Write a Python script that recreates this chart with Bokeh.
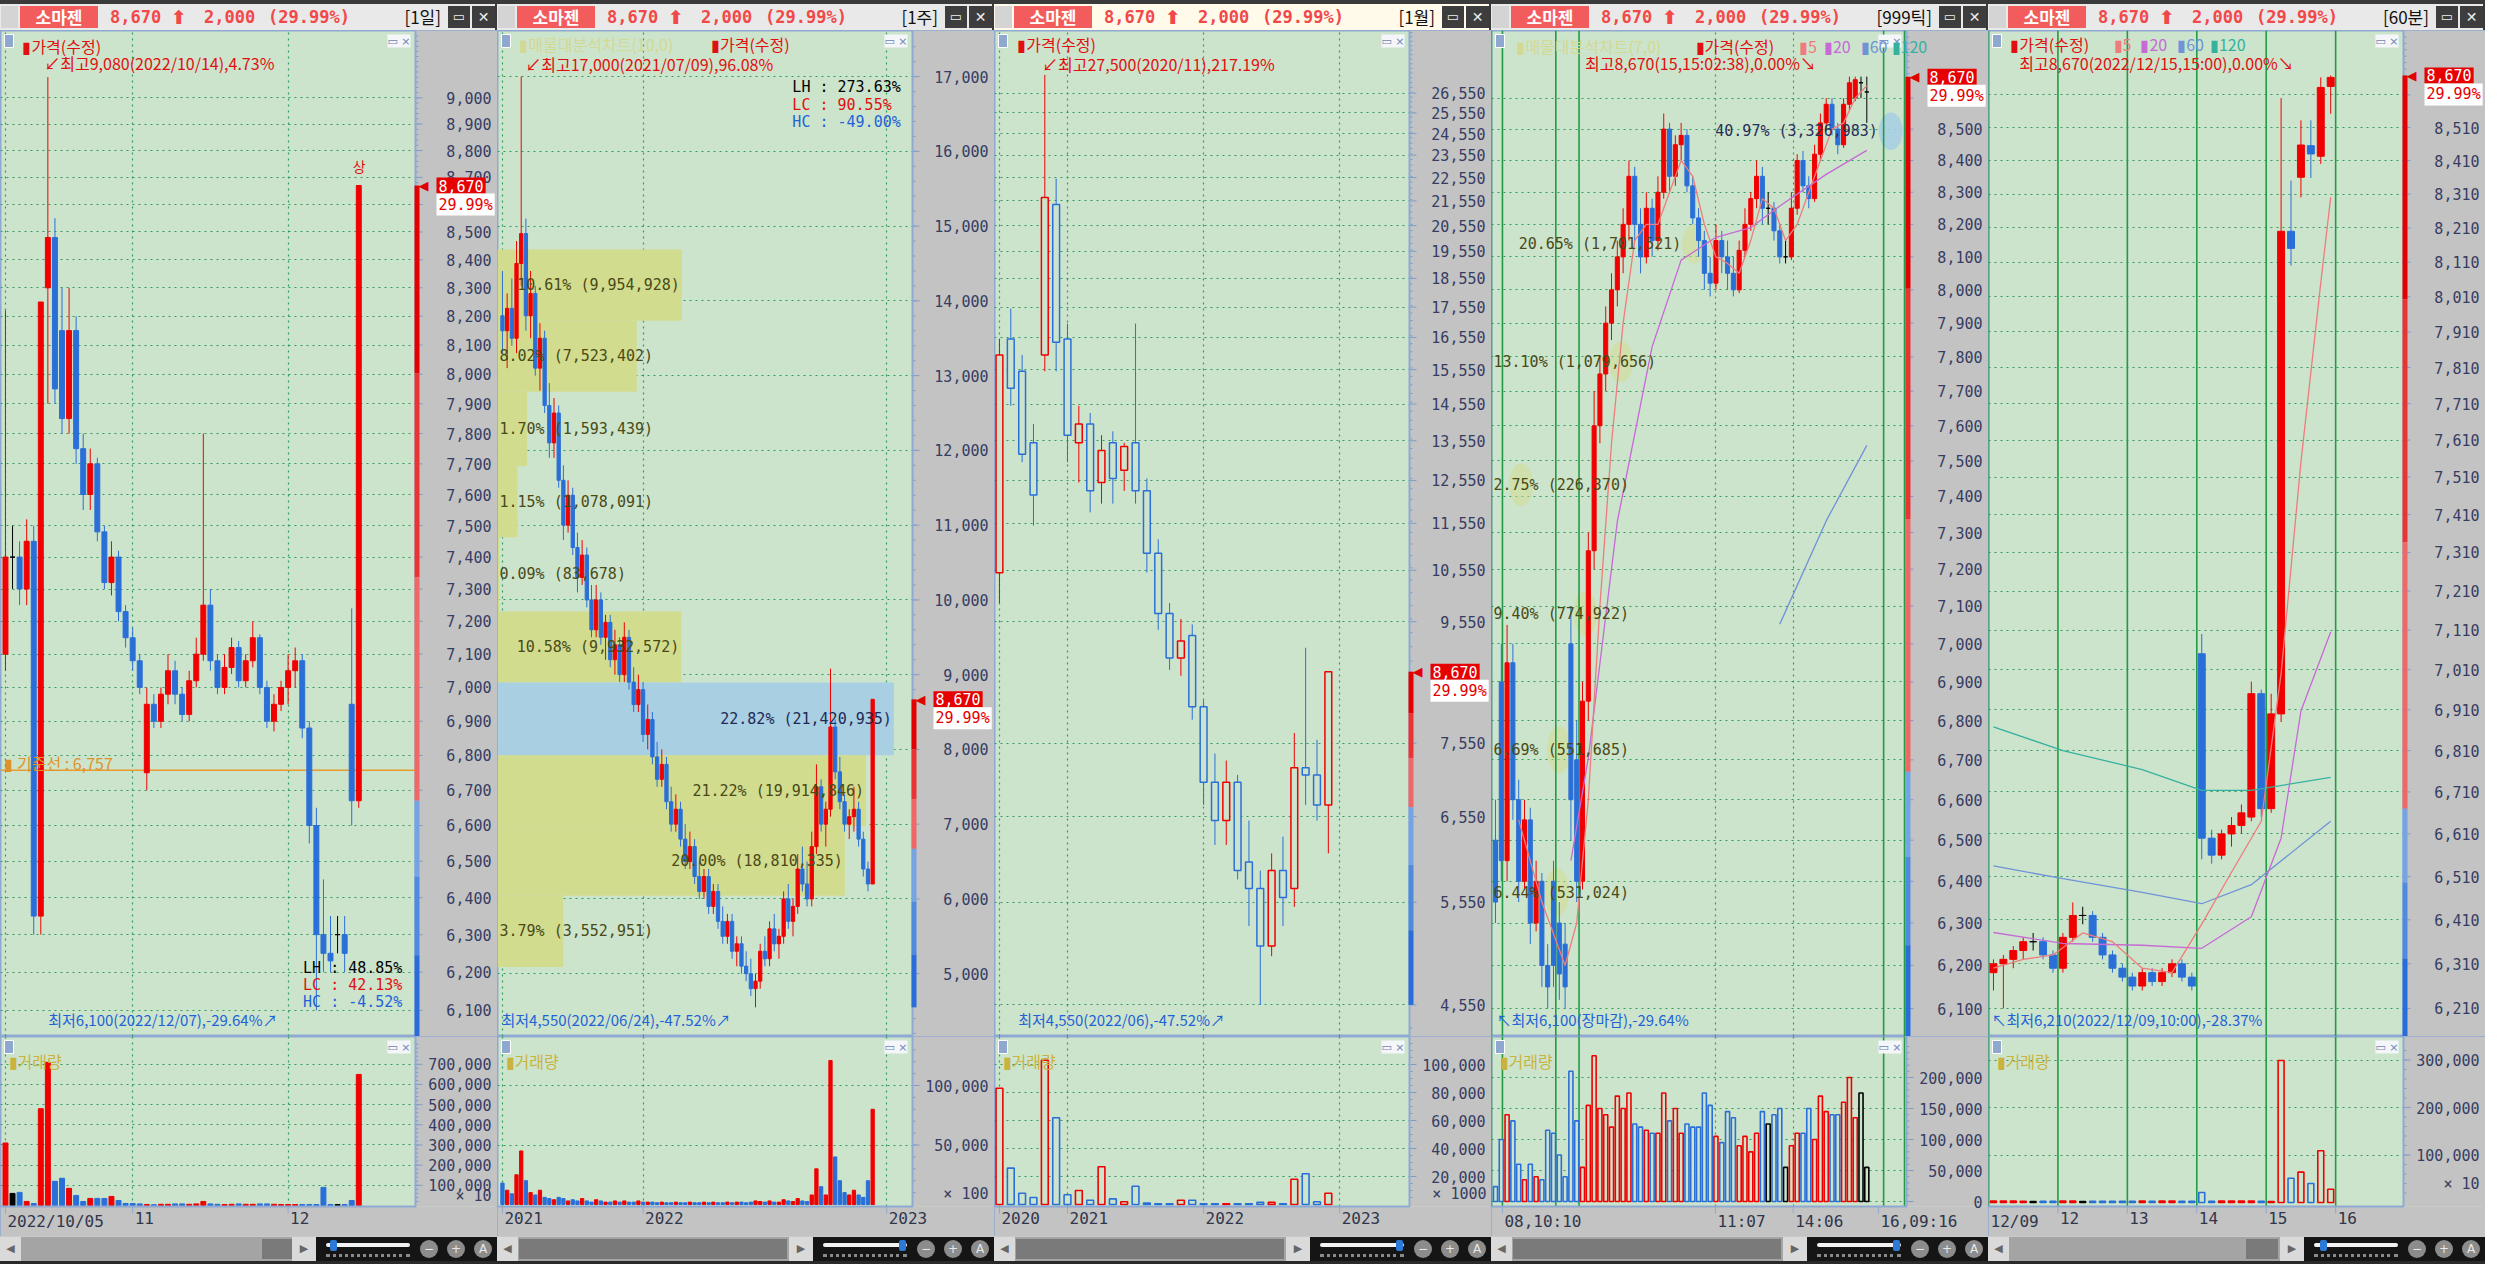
import math
from bokeh.plotting import figure
from bokeh.layouts import row, column
from bokeh.models import Div, Range1d, FixedTicker, Label, Grid
from bokeh.core.properties import value
from bokeh.embed import file_html
from bokeh.resources import INLINE

# ============================ DATA ============================
# ---- Panel 1 : daily candles, 2022/10/05 .. 2022/12/15 ----
d_open = [7100,7400,7400,7300,7450,6350,8300,8480,8150,7850,8150,7750,7600,7700,7480,7320,7400,7230,
          7150,7080,6750,6950,6900,6980,7050,6980,6920,7020,7100,7250,7080,7000,7060,7120,7020,7080,7150,7000,6900,6950,
          7000,7050,7080,6880,6600,6300,6250,6300,6300,6950,6670]
d_high = [8220,7500,7450,7520,7500,8250,9080,8550,8300,8300,8200,7800,7750,7720,7500,7450,7420,7250,
          7180,7100,7000,6980,7000,7100,7080,7000,7050,7150,7800,7300,7100,7100,7150,7140,7100,7200,7160,7020,6980,7020,
          7100,7120,7100,6900,6650,6450,6350,6350,6350,7240,8670]
d_low = [7050,7300,7250,7250,6300,6300,7900,7900,7800,7800,7700,7550,7550,7450,7300,7280,7200,7120,
         7050,6980,6700,6880,6880,6950,6950,6900,6900,7000,7080,7050,6980,6980,7040,7000,7000,7060,6980,6880,6870,6930,
         6950,7000,6850,6550,6100,6200,6200,6250,6200,6600,6650]
d_close = [7400,7400,7300,7450,6350,8250,8480,7950,7850,8150,7750,7600,7700,7480,7320,7400,7230,7150,
           7080,7000,6950,6900,6980,7050,6980,6920,7020,7100,7250,7080,7000,7060,7120,7020,7080,7150,7000,6900,6950,7000,
           7050,7080,6880,6600,6300,6250,6230,6300,6250,6670,8670]
d_vol = [310000,60000,65000,20000,10000,480000,710000,120000,135000,85000,50000,20000,35000,35000,35000,45000,25000,10000,
         10000,8000,5000,4000,6000,6000,8000,8000,6000,8000,20000,8000,6000,5000,6000,8000,6000,6000,8000,8000,6000,5000,
         5000,5000,5000,5000,5000,90000,5000,5000,5000,25000,650000]
d_tick_idx = [0, 18, 40]
d_tick_lbl = ["2022/10/05", "11", "12"]
d_base_line = 6757

# ---- Panel 2 : weekly candles, 2021/06 .. 2022/12 ----
w_open = [13800,13600,13900,13500,14500,14900,13800,14100,13100,13500,12600,12100,12500,11600,11000,11400,10700,10300,10600,10000,
          9600,10000,9500,9700,9200,9400,9000,9500,8900,8600,8800,8200,8400,7900,7600,7800,7300,7000,7200,6800,
          6500,6700,6300,6100,6300,5900,6100,5700,5500,5700,5300,5400,5100,5000,4800,4900,5300,5200,5600,5400,
          5500,6000,5700,5900,6400,6200,6000,6700,7500,7000,7200,8300,7700,7300,7000,7100,7200,6800,6400,6200]
w_high = [14400,14100,14300,14800,17000,15100,14400,14200,13700,13600,12900,12700,12600,11800,11600,11500,10900,10800,10700,10200,
          10200,10100,9800,9800,9600,9500,9700,9600,9100,9000,8900,8600,8500,8100,8000,7900,7500,7400,7300,7000,
          6900,6800,6500,6400,6400,6200,6200,5900,5800,5800,5500,5500,5300,5200,5000,5400,5500,5700,5800,5600,
          6100,6200,6000,6600,6700,6500,6900,7800,7600,7300,9080,8400,7900,7400,7200,7500,7300,6900,6500,8670]
w_low = [13300,13100,13400,13300,14200,13600,13500,13000,12800,12500,11900,11900,11500,10800,10900,10600,10100,10200,9900,9500,
         9500,9400,9200,9100,9000,8900,8900,8800,8500,8500,8100,8000,7800,7500,7500,7200,6900,6900,6700,6400,
         6400,6200,6000,6000,5800,5800,5600,5400,5400,5200,5100,5000,4900,4700,4550,4800,5100,5100,5300,5200,
         5400,5600,5500,5800,6100,5900,5900,6600,6900,6700,7100,7600,7200,6900,6800,6900,6700,6300,6100,6200]
w_close = [13600,13900,13500,14500,14900,13800,14100,13100,13500,12600,12100,12500,11600,11000,11400,10700,10300,10600,10000,9600,
           10000,9500,9700,9200,9400,9000,9500,8900,8600,8800,8200,8400,7900,7600,7800,7300,7000,7200,6800,6500,
           6700,6300,6100,6300,5900,6100,5700,5500,5700,5300,5400,5100,5000,4800,4900,5300,5200,5600,5400,5500,
           6000,5700,5900,6400,6200,6000,6700,7500,7000,7200,8300,7700,7300,7000,7100,7200,6800,6400,6200,8670]
w_vol = [18000,12000,9000,25000,45000,20000,10000,8000,12000,6000,5000,4000,6000,5000,3000,4000,3000,5000,3000,2000,
         4000,3000,2000,2000,3000,2000,3000,2000,2000,3000,2000,2000,2000,1500,2000,1500,1500,2000,1500,1500,
         2000,1500,1500,2000,1500,2000,1500,1500,2000,1500,2000,2000,1500,2000,3000,2500,2000,3000,2000,2000,
         4000,3000,2500,5000,3000,2500,8000,30000,15000,8000,121000,40000,20000,10000,8000,12000,8000,6000,20000,80000]
w_tick_idx = [0, 30, 82]
w_tick_lbl = ["2021", "2022", "2023"]
# volume profile (매물대) : band edges (price) top->bottom, share and volume
w_band_top = [14687, 13735, 12784, 11791, 10839, 9846, 8894, 7922, 6972, 6041]
w_band_bot = [13735, 12784, 11791, 10839, 9846, 8894, 7922, 6972, 6041, 5090]
w_band_pct = [10.61, 8.02, 1.70, 1.15, 0.09, 10.58, 22.82, 21.22, 20.00, 3.79]
w_band_vol = ["9,954,928", "7,523,402", "1,593,439", "1,078,091", "83,678", "9,932,572",
              "21,420,935", "19,914,846", "18,810,335", "3,552,951"]

# ---- Panel 3 : monthly candles, 2020/07 .. 2022/12 ----
m_open = [10500,16500,15500,13500,16000,21400,16500,13500,14000,12500,13500,12800,13500,12300,10900,9700,8900,9300,8100,7000,
          6500,7000,6000,5700,5100,5900,5700,7200,7100,6700]
m_high = [16500,17500,16000,14000,27500,22500,17000,14500,14300,13700,13800,13500,17000,12600,11200,9900,9600,9500,8200,7400,
          7300,7100,6500,5900,6100,6300,7700,9080,7600,8670]
m_low = [9900,14500,13000,11500,15500,15500,13000,12500,11800,12000,12000,12300,12000,10500,9400,8700,8600,7900,6700,6200,
         6200,5800,5300,4550,5000,5300,5500,6700,6500,6100]
m_close = [16000,15000,13200,12200,21700,16400,13700,14000,12300,13300,12600,13400,12300,10900,9700,8900,9200,8100,7000,6500,
           7000,5900,5700,5100,5900,5600,7200,7100,6700,8670]
m_vol = [83000,26000,8000,5000,103000,62000,7000,10000,3000,27000,4000,2000,13000,1000,500,500,3000,3000,500,500,
         500,500,500,1500,1500,500,18000,22000,2000,8000]
m_tick_idx = [0, 6, 18, 30]
m_tick_lbl = ["2020", "2021", "2022", "2023"]
m_price_ticks = [4550, 5550, 6550, 7550, 9550, 10550, 11550, 12550, 13550, 14550, 15550, 16550, 17550,
                 18550, 19550, 20550, 21550, 22550, 23550, 24550, 25550, 26550]

# ---- Panel 4 : 999-tick candles ----
t_open = [6500,6900,6450,6950,6600,6400,6550,6300,6400,6200,6400,6300,6250,7000,6700,6400,6850,7250,7600,7750,
          7900,8000,8100,8200,8350,8200,8100,8250,8150,8300,8500,8350,8450,8480,8320,8220,8150,8050,8020,8150,
          8100,8050,8000,8120,8200,8280,8350,8250,8250,8180,8100,8100,8250,8400,8320,8280,8420,8520,8580,8500,
          8450,8580,8600,8650,8620]
t_high = [6600,7000,7050,7000,6650,6600,6580,6450,6420,6250,6450,6350,6300,7100,6800,6900,7300,7700,7800,7950,
          8050,8150,8250,8400,8380,8250,8300,8280,8350,8550,8520,8480,8520,8500,8350,8250,8180,8100,8200,8180,
          8150,8100,8150,8250,8300,8400,8380,8300,8270,8200,8150,8300,8420,8430,8350,8450,8550,8600,8600,8520,
          8600,8670,8670,8670,8670]
t_low = [6300,6400,6400,6550,6350,6380,6250,6280,6150,6100,6150,6120,6100,6500,6350,6380,6800,7200,7550,7700,
         7850,7950,8050,8150,8150,8050,8080,8100,8120,8280,8300,8320,8400,8300,8200,8100,8000,7980,8000,8050,
         8000,7980,7990,8100,8180,8250,8200,8200,8150,8080,8080,8090,8230,8300,8250,8270,8400,8500,8480,8420,
         8440,8560,8590,8600,8520]
t_close = [6350,6450,6950,6600,6400,6550,6300,6400,6200,6150,6200,6180,6150,6600,6400,6850,7250,7600,7750,7900,
           8000,8100,8200,8350,8200,8100,8250,8150,8300,8500,8350,8450,8480,8320,8220,8150,8050,8020,8150,8100,
           8050,8000,8120,8200,8280,8350,8250,8250,8180,8100,8100,8250,8400,8320,8280,8420,8520,8580,8500,8450,
           8580,8650,8660,8650,8620]
t_vol = [24000,100000,140000,130000,60000,35000,60000,40000,35000,115000,110000,75000,40000,210000,130000,55000,155000,235000,150000,140000,
         120000,170000,150000,175000,125000,120000,115000,110000,110000,175000,130000,150000,110000,125000,120000,120000,175000,155000,105000,95000,
         145000,135000,90000,105000,80000,110000,145000,125000,140000,150000,55000,90000,110000,110000,150000,100000,170000,145000,140000,140000,
         160000,200000,135000,175000,55000]
t_tick_idx = [1.2, 37.9, 51.3, 66.0]
t_tick_lbl = ["08,10:10", "11:07", "14:06", "16,09:16"]
t_day_lines = [-0.7, 1.2, 10.4, 14.4, 66.9, 70.5]
t_ma5_idx = [4,8,12,14,16,18,20,22,24,26,28,30,32,34,36,38,40,42,44,46,48,50,52,54,56,58,60,62,64]
t_ma5_val = [6550,6350,6200,6300,6600,7100,7550,7900,8150,8200,8200,8300,8400,8350,8200,8100,8080,8050,8150,8280,
             8250,8150,8200,8300,8400,8500,8520,8600,8640]
t_ma20_idx = [13,16,21,27,32,38,44,49,57,64]
t_ma20_val = [6450,6705,7330,7830,8090,8160,8190,8257,8356,8432]
t_ma60_idx = [49,57,64]
t_ma60_val = [7052,7332,7544]
t_band_top = [8670, 8316, 7963, 7609, 7256, 6903, 6549]
t_band_bot = [8316, 7963, 7609, 7256, 6903, 6549, 6196]
t_band_pct = [40.97, 20.65, 13.10, 2.75, 9.40, 6.69, 6.44]
t_band_vol = ["3,326,983", "1,701,521", "1,079,656", "226,370", "774,922", "551,685", "531,024"]

# ---- Panel 5 : 60-minute candles, 12/09 .. 12/15 ----
h_open = [6290,6310,6320,6340,6360,6360,6330, 6300,6370,6420,6420,6370,6330,6300,
          6280,6260,6290,6270,6290,6310,6280, 7050,6600,6560,6610,6630,6650,6950,
          6670,6900,8200,8360,8455,8423,8636]
h_high = [6320,6330,6350,6370,6380,6370,6340, 6380,6450,6440,6430,6380,6340,6310,
          6290,6300,6300,6300,6320,6320,6290, 7100,6620,6620,6650,6680,6980,6960,
          6950,8600,8350,8532,8532,8664,8670]
h_low = [6250,6210,6300,6320,6340,6320,6290, 6290,6360,6400,6360,6320,6290,6270,
         6250,6250,6260,6260,6280,6270,6250, 6550,6540,6550,6580,6610,6640,6650,
         6660,6880,8100,8300,8358,8400,8552]
h_close = [6310,6320,6340,6360,6360,6330,6300, 6370,6420,6420,6370,6330,6300,6280,
           6260,6290,6270,6290,6310,6280,6260, 6600,6560,6610,6630,6660,6950,6670,
           6900,8200,8150,8457,8430,8633,8664]
h_vol = [3000,3000,3000,2500,2000,2500,2500, 3000,3000,2000,2500,2500,2500,2500,
         2500,3000,2500,3000,3000,2500,2500, 21000,2500,3000,3000,3000,3000,2500,
         2000,299000,51000,64000,40000,109000,28000]
h_tick_idx = [-0.5, 6.5, 13.5, 20.5, 27.5, 34.5]
h_tick_lbl = ["12/09", "12", "13", "14", "15", "16"]
h_ma5_idx = [0,3,6,9,12,15,18,21,24,27,29,31,33,34]
h_ma5_val = [6300,6320,6330,6380,6360,6300,6290,6400,6520,6640,7000,7550,8050,8300]
h_ma20_idx = [0,7,15,21,26,29,31,34]
h_ma20_val = [6381,6356,6352,6345,6417,6600,6907,7105]
h_ma60_idx = [0,7,15,21,26,34]
h_ma60_val = [6535,6505,6473,6447,6491,6640]
h_ma120_idx = [0,7,15,21,26,34]
h_ma120_val = [6868,6810,6764,6714,6714,6745]

CUR_PRICE = 8670
PREV_CLOSE = 6670

# ============================ STYLE / GEOMETRY ============================
KF = "Noto Sans CJK KR"
MF = "DejaVu Sans Mono"
BG = "#cde4cc"
AXBG = "#c3c3c3"
GRIDC = "#2f9c5e"
OUTL = "#8fa9d2"
TICKC = "#7f9cc8"
UP = "#f00000"
DN = "#2a6fd8"
EQ = "#000000"
DAYC = "#239a45"
AXTXT = "#363d62"

PW, FW = 497, 415
HEAD_H, PRICE_H, VOL_H, DATE_H, SCROLL_H = 30, 1006, 170, 30, 28

# reference-pixel calibration of each panel (layout only)
CAL = {
    1: dict(log=True, y0=99.1, p0=9000, k=5461.0, x0=5, dx=7.1, fl=0, fr=417, vb=1219, vk=20.17 / 100000),
    2: dict(log=False, y0=77.6, p0=17000, k=0.075575, x0=505, dx=4.72, fl=500, fr=918, vb=1218, vk=59.5 / 50000),
    3: dict(log=True, y0=94.3, p0=26550, k=1203.3, x0=1007, dx=11.45, fl=1002, fr=1421, vb=1218, vk=1.4 / 1000),
    4: dict(log=True, y0=130.7, p0=8500, k=6170.0, x0=1507, dx=5.83, fl=1503, fr=1920, vb=1215, vk=31 / 50000),
    5: dict(log=True, y0=129.1, p0=8510, k=6508.0, x0=2010, dx=9.99, fl=2005, fr=2423, vb=1216, vk=47.5 / 100000),
}


def PX(n, xr):
    c = CAL[n]
    return (xr - c["x0"]) / c["dx"]


def PY(n, yr):
    c = CAL[n]
    if c["log"]:
        return 10 ** (math.log10(c["p0"]) - (yr - c["y0"]) / c["k"])
    return c["p0"] - (yr - c["y0"]) / c["k"]


def VY(n, yr):
    c = CAL[n]
    return (c["vb"] - yr) / c["vk"]


def lbl(p, x, y, text, color="#e01010", size=15, font=KF, align="left", baseline="middle",
        xo=0, yo=0, bg=None, pad=None, bold=False, border=None):
    kw = dict(x=x, y=y, text=text, text_color=color, text_font_size=f"{size}px", text_font=font,
              text_align=align, text_baseline=baseline, x_offset=xo, y_offset=yo)
    if bold:
        kw["text_font_style"] = "bold"
    if bg:
        kw["background_fill_color"] = bg
    if border:
        kw["border_line_color"] = border
    if pad is not None:
        kw["padding"] = pad
    L = Label(**kw)
    p.add_layout(L)
    return L


def dir_colors(o, c):
    return [UP if ci > oi else (DN if ci < oi else EQ) for oi, ci in zip(o, c)]


def draw_candles(p, o, h, l, c, w, hollow=False):
    xs = list(range(len(o)))
    col = dir_colors(o, c)
    top = [max(a, b) for a, b in zip(o, c)]
    bot = [min(a, b) for a, b in zip(o, c)]
    p.segment(x0=xs, y0=l, x1=xs, y1=h, line_color=col, line_width=1)
    if hollow:
        p.vbar(x=xs, width=w, top=top, bottom=bot, fill_color=BG, line_color=col, line_width=1.5)
    else:
        p.vbar(x=xs, width=w, top=top, bottom=bot, fill_color=col, line_color=col, line_width=1)


def draw_volume(v, o, c, vol, w, hollow=False):
    xs = list(range(len(vol)))
    col = dir_colors(o, c)
    if hollow:
        v.vbar(x=xs, width=w, top=vol, bottom=0, fill_color=BG, line_color=col, line_width=1.6)
    else:
        v.vbar(x=xs, width=w, top=vol, bottom=0, fill_color=col, line_color=col)


class Panel:
    pass


def right_axis(fig, xd, xe, u, ticks, minor, y0, y1, size=15):
    """grey axis strip at the right of a frame, with ticks and labels placed by the y scale."""
    fig.quad(left=[xd], right=[xe], bottom=[y0], top=[y1], fill_color=AXBG, line_color=None)
    if minor:
        fig.segment(x0=[xd] * len(minor), y0=minor, x1=[xd + 3 * u] * len(minor), y1=minor,
                    line_color=TICKC, line_width=1)
    fig.segment(x0=[xd] * len(ticks), y0=ticks, x1=[xd + 7 * u] * len(ticks), y1=ticks,
                line_color=TICKC, line_width=1)
    fig.text(x=[xe - 6 * u] * len(ticks), y=ticks, text=[f"{t:,}" for t in ticks],
             text_align="right", text_baseline="middle", text_font=value(MF),
             text_font_size=value(f"{size}px"), text_color=AXTXT)


def make_panel(n, log, yticks, yminor, xgrid_ticks, vticks, vminor, tick_idx, tick_lbl):
    c = CAL[n]
    s = FW / (c["fr"] - c["fl"])
    P = Panel()
    P.xs = xs = PX(n, c["fl"])
    P.xd = xd = PX(n, c["fr"])
    P.xe = xe = PX(n, c["fl"] + PW / s)
    P.u = u = (xe - xs) / PW
    ys, ye = PY(n, 1048), PY(n, 31)
    P.ys, P.ye = ys, ye
    xr = Range1d(xs, xe)
    p = figure(width=PW, height=PRICE_H, x_range=xr, y_range=Range1d(ys, ye),
               y_axis_type="log" if log else "linear", x_axis_location=None, y_axis_location=None,
               toolbar_location=None, output_backend="svg", min_border=0,
               background_fill_color=BG, border_fill_color=AXBG,
               outline_line_color=OUTL, outline_line_width=2)
    p.xgrid.grid_line_color = None
    p.ygrid.grid_line_color = None
    p.add_layout(Grid(dimension=1, ticker=FixedTicker(ticks=yticks), grid_line_color=GRIDC,
                      grid_line_dash="2 4", grid_line_width=1.2))
    if xgrid_ticks:
        p.add_layout(Grid(dimension=0, ticker=FixedTicker(ticks=xgrid_ticks), grid_line_color=GRIDC,
                          grid_line_dash="2 4", grid_line_width=1.2))
    right_axis(p, xd, xe, u, yticks, [m for m in yminor if ys < m < ye], ys, ye)
    p.segment(x0=[xd], y0=[ys], x1=[xd], y1=[ye], line_color=OUTL, line_width=2)

    vy0, vy1 = VY(n, 1220), VY(n, 1050)
    vspan = vy1 - vy0
    vys = vy0 - vspan * DATE_H / VOL_H
    P.vy0, P.vy1, P.vys = vy0, vy1, vys
    P.vu = vspan / VOL_H
    v = figure(width=PW, height=VOL_H + DATE_H, x_range=xr, y_range=Range1d(vys, vy1),
               x_axis_location=None, y_axis_location=None,
               toolbar_location=None, output_backend="svg", min_border=0,
               background_fill_color=BG, border_fill_color=AXBG,
               outline_line_color=OUTL, outline_line_width=2)
    v.xgrid.grid_line_color = None
    v.ygrid.grid_line_color = None
    v.add_layout(Grid(dimension=1, ticker=FixedTicker(ticks=vticks), grid_line_color=GRIDC,
                      grid_line_dash="2 4", grid_line_width=1.2))
    if xgrid_ticks:
        v.add_layout(Grid(dimension=0, ticker=FixedTicker(ticks=xgrid_ticks), grid_line_color=GRIDC,
                          grid_line_dash="2 4", grid_line_width=1.2))
    P.p, P.v = p, v
    P.vticks, P.vminor = vticks, vminor
    P.tick_idx, P.tick_lbl = tick_idx, tick_lbl
    return P


def finish_volume(P, n):
    v, u, vu = P.v, P.u, P.vu
    # date strip + right axis strip (drawn after the bars)
    v.quad(left=[P.xs], right=[P.xe], bottom=[P.vys], top=[P.vy0], fill_color=AXBG, line_color=None)
    right_axis(v, P.xd, P.xe, u, P.vticks, [m for m in P.vminor if P.vy0 < m < P.vy1], P.vy0, P.vy1)
    v.line(x=[P.xs, P.xd, P.xd], y=[P.vy0, P.vy0, P.vy1], line_color=OUTL, line_width=2)
    n_t = len(P.tick_idx)
    v.segment(x0=P.tick_idx, y0=[P.vy0] * n_t, x1=P.tick_idx, y1=[P.vy0 - 7 * vu] * n_t,
              line_color="#8fa9d2", line_width=1)
    v.text(x=[t + 2 * u for t in P.tick_idx], y=[P.vy0 - 5 * vu] * n_t, text=P.tick_lbl,
           text_align="left", text_baseline="top", text_font=value(MF),
           text_font_size=value("16px"), text_color="#30364a")
    lbl(v, P.xs, P.vy1, "\u2003", color="#8ea8d0", size=9, bg="#8ea8d0",
        baseline="top", xo=4, yo=-4, border="#ffffff")
    lbl(v, P.xd, P.vy1, "▭ ×", color="#6f86b4", size=11, font="DejaVu Sans",
        bg="#f4f6fa", align="right", baseline="top", xo=-5, yo=-4)
    lbl(v, P.xs, P.vy1, "▮거래량", color="#c9b33e", size=16, xo=8, yo=-24)


def price_marker(P, low_price):
    p, xd, u = P.p, P.xd, P.u
    segs = [(CUR_PRICE, 8003, "#e30000"), (8003, 7337, "#ea3434"), (7337, PREV_CLOSE, "#f06767")]
    span = PREV_CLOSE - low_price
    segs += [(PREV_CLOSE, PREV_CLOSE - span / 3, "#76a3e4"),
             (PREV_CLOSE - span / 3, PREV_CLOSE - 2 * span / 3, "#4f8ade"),
             (PREV_CLOSE - 2 * span / 3, low_price, "#2a6dd8")]
    p.quad(left=[xd - 1 * u] * len(segs), right=[xd + 4 * u] * len(segs), top=[s_[0] for s_ in segs],
           bottom=[s_[1] for s_ in segs], fill_color=[s_[2] for s_ in segs], line_color=None)
    lbl(p, xd, CUR_PRICE, "◀", color="#e00000", size=13, font="DejaVu Sans", xo=3)
    lbl(p, xd, CUR_PRICE, "8,670", color="#ffffff", size=15, font=MF, bg="#e60000", xo=21, pad=2)
    lbl(p, xd, CUR_PRICE, "29.99%", color="#e60000", size=15, font=MF, bg="#ffffff", xo=21, yo=-19, pad=2)
    lbl(p, P.xs, P.ye, "\u2003", color="#8ea8d0", size=9, bg="#8ea8d0",
        baseline="top", xo=4, yo=-4, border="#ffffff")
    lbl(p, xd, P.ye, "▭ ×", color="#6f86b4", size=11, font="DejaVu Sans",
        bg="#f4f6fa", align="right", baseline="top", xo=-5, yo=-4)


def header(tf, cream=False):
    bg = "#fffaea" if cream else "#e9e9e9"
    mono = "font-family:'DejaVu Sans Mono';font-weight:bold;font-size:17px;color:#f24848;"
    html = f"""
<div style="position:relative;width:{PW}px;height:{HEAD_H}px;background:#3a3a3a;overflow:hidden;">
 <div style="position:absolute;left:0;top:4px;width:{PW-2}px;height:26px;background:{bg};"></div>
 <div style="position:absolute;left:1px;top:6px;width:17px;height:22px;background:#d4d4d4;"></div>
 <div style="position:absolute;left:20px;top:6px;width:78px;height:22px;background:#f35c5c;color:#ffffff;
   font-family:'Noto Sans CJK KR';font-weight:bold;font-size:17px;line-height:22px;text-align:center;">소마젠</div>
 <div style="position:absolute;left:110px;top:5px;line-height:24px;{mono}">8,670</div>
 <div style="position:absolute;left:171px;top:5px;line-height:24px;font-family:'DejaVu Sans';font-weight:bold;
   font-size:19px;color:#f24848;">⬆</div>
 <div style="position:absolute;left:204px;top:5px;line-height:24px;{mono}">2,000</div>
 <div style="position:absolute;left:268px;top:5px;line-height:24px;{mono}">(29.99%)</div>
 <div style="position:absolute;right:56px;top:5px;height:24px;line-height:24px;color:#111111;
   font-family:'Noto Sans CJK KR';font-size:17px;white-space:pre;">[{tf}]</div>
 <div style="position:absolute;right:27px;top:6px;width:22px;height:22px;background:#3d3d3d;color:#eeeeee;
   font-family:'DejaVu Sans';font-size:13px;line-height:22px;text-align:center;">▭</div>
 <div style="position:absolute;right:2px;top:6px;width:23px;height:22px;background:#3d3d3d;color:#eeeeee;
   font-family:'DejaVu Sans';font-size:14px;line-height:22px;text-align:center;">✕</div>
</div>"""
    return Div(text=html, width=PW, height=HEAD_H, margin=0)


def scrollbar(thumb_left, thumb_w, knob):
    icons = "".join(
        f'<div style="position:absolute;left:{x}px;top:4px;width:18px;height:18px;border-radius:50%;'
        f'background:#8c8c8c;color:#e8e8e8;font-family:DejaVu Sans;font-size:12px;line-height:18px;'
        f'text-align:center;">{s}</div>' for x, s in ((420, "−"), (447, "+"), (474, "A")))
    html = f"""
<div style="position:relative;width:{PW}px;height:{SCROLL_H}px;background:#c9c9c9;overflow:hidden;">
 <div style="position:absolute;left:0;top:1px;width:{PW}px;height:24px;background:#a4a4a4;"></div>
 <div style="position:absolute;left:0;top:1px;width:21px;height:24px;background:#dadada;color:#666;
   font-family:'DejaVu Sans';font-size:11px;line-height:24px;text-align:center;">◀</div>
 <div style="position:absolute;left:{thumb_left}px;top:3px;width:{thumb_w}px;height:20px;background:#7a7a7a;"></div>
 <div style="position:absolute;left:292px;top:1px;width:24px;height:24px;background:#dadada;color:#666;
   font-family:'DejaVu Sans';font-size:11px;line-height:24px;text-align:center;">▶</div>
 <div style="position:absolute;left:316px;top:1px;width:{PW-316}px;height:24px;background:#151515;"></div>
 <div style="position:absolute;left:326px;top:7px;width:84px;height:4px;background:#f2f2f2;border-radius:2px;"></div>
 <div style="position:absolute;left:{knob}px;top:4px;width:7px;height:11px;background:#2b7ad9;border-radius:2px;"></div>
 <div style="position:absolute;left:326px;top:17px;width:84px;height:4px;border-bottom:3px dotted #8a8a8a;"></div>
 {icons}
 <div style="position:absolute;left:0;top:25px;width:{PW}px;height:3px;background:#2a2a2a;"></div>
</div>"""
    return Div(text=html, width=PW, height=SCROLL_H, margin=0)


def profile(P, tops, bots, pcts, vols, colors_txt, rounded=False):
    """volume-by-price bars: length proportional to share, label right-aligned at bar end."""
    p, xs = P.p, P.xs
    full = (P.xd - xs) * 0.955
    pmax = max(pcts)
    rights = [xs + pc / pmax * full for pc in pcts]
    mids = [(t + b) / 2 for t, b in zip(tops, bots)]
    cur = [b < CUR_PRICE <= t for t, b in zip(tops, bots)]
    fills = ["#a9cfe3" if cb else "#d2dc8e" for cb in cur]
    if rounded:
        p.ellipse(x=[r + 3 * P.u for r in rights], y=mids, width=24 * P.u,
                  height=[(t - b) * 0.34 for t, b in zip(tops, bots)], fill_color=fills,
                  fill_alpha=[0.9 if cb else 0.5 for cb in cur], line_color=None)
        shift = -10
    else:
        p.quad(left=[xs] * len(pcts), right=rights, top=tops, bottom=bots, fill_color=fills, line_color=None)
        shift = -2
    txt_w = 164 * P.u
    for r, ym, pc, vol, cb in zip(rights, mids, pcts, vols, cur):
        s_ = f"{pc:.2f}% ({vol})"
        col = colors_txt[1] if cb else colors_txt[0]
        if r - xs >= txt_w:
            lbl(p, r, ym, s_, color=col, size=15, font=MF, align="right", xo=shift)
        else:
            lbl(p, xs, ym, s_, color=col, size=15, font=MF, align="left", xo=2)


LOW_Y = 1031   # reference y of the 최저 annotations (kept clear of the frame bottom)

# ============================ PANEL 1 : daily ============================
P1 = make_panel(1, True, list(range(6100, 9001, 100)), list(range(6040, 9260, 20)),
                d_tick_idx, list(range(100000, 700001, 100000)), list(range(20000, 820000, 20000)),
                d_tick_idx, d_tick_lbl)
p1, v1 = P1.p, P1.v
p1.segment(x0=[P1.xs], y0=[d_base_line], x1=[P1.xd], y1=[d_base_line], line_color="#e79a2e", line_width=1.5)
draw_candles(p1, d_open, d_high, d_low, d_close, 0.7)
draw_volume(v1, d_open, d_close, d_vol, 0.7)
finish_volume(P1, 1)
price_marker(P1, PY(1, 1048))
lbl(p1, PX(1, 22), PY(1, 47), "▮가격(수정)", color="#e01010", size=16)
lbl(p1, PX(1, 44), PY(1, 64), "↙최고9,080(2022/10/14),4.73%", color="#e01010", size=16)
lbl(p1, PX(1, 4), PY(1, 772), "▮ 기준선 : 6,757", color="#e0922a", size=16)
lbl(p1, PX(1, 354), PY(1, 168), "상", color="#e01010", size=14)
lbl(p1, PX(1, 304), PY(1, 979), "LH : 48.85%", color="#000000", size=15, font=MF)
lbl(p1, PX(1, 304), PY(1, 996), "LC : 42.13%", color="#e01010", size=15, font=MF)
lbl(p1, PX(1, 304), PY(1, 1013), "HC : -4.52%", color="#1f63d6", size=15, font=MF)
lbl(p1, PX(1, 48), PY(1, LOW_Y), "최저6,100(2022/12/07),-29.64%↗", color="#1f63d6", size=15)
v1.text(x=[P1.xe - 6 * P1.u], y=[VY(1, 1209)], text=["× 10"], text_align="right", text_baseline="middle",
        text_font=value(MF), text_font_size=value("15px"), text_color=AXTXT)

# ============================ PANEL 2 : weekly ============================
P2 = make_panel(2, False, list(range(5000, 17001, 1000)), list(range(4200, 17600, 200)),
                w_tick_idx, [50000, 100000], list(range(10000, 140000, 10000)),
                w_tick_idx, w_tick_lbl)
p2, v2 = P2.p, P2.v
profile(P2, w_band_top, w_band_bot, w_band_pct, w_band_vol, ("#4a4a16", "#1f2a55"))
draw_candles(p2, w_open, w_high, w_low, w_close, 0.7)
draw_volume(v2, w_open, w_close, w_vol, 0.7)
finish_volume(P2, 2)
price_marker(P2, 4550)
lbl(p2, PX(2, 522), PY(2, 45), "▮매물대분석차트(10,0)", color="#d3d893", size=16)
lbl(p2, PX(2, 715), PY(2, 45), "▮가격(수정)", color="#e01010", size=16)
lbl(p2, PX(2, 528), PY(2, 65), "↙최고17,000(2021/07/09),96.08%", color="#e01010", size=16)
lbl(p2, PX(2, 797), PY(2, 88), "LH : 273.63%", color="#000000", size=15, font=MF)
lbl(p2, PX(2, 797), PY(2, 106), "LC :  90.55%", color="#e01010", size=15, font=MF)
lbl(p2, PX(2, 797), PY(2, 124), "HC : -49.00%", color="#1f63d6", size=15, font=MF)
lbl(p2, PX(2, 504), PY(2, LOW_Y), "최저4,550(2022/06/24),-47.52%↗", color="#1f63d6", size=15)
v2.text(x=[P2.xe - 6 * P2.u], y=[VY(2, 1207)], text=["× 100"], text_align="right", text_baseline="middle",
        text_font=value(MF), text_font_size=value("15px"), text_color=AXTXT)

# ============================ PANEL 3 : monthly ============================
P3 = make_panel(3, True, m_price_ticks, list(range(4350, 30000, 250)),
                m_tick_idx, list(range(20000, 100001, 20000)), list(range(5000, 120000, 5000)),
                m_tick_idx, m_tick_lbl)
p3, v3 = P3.p, P3.v
draw_candles(p3, m_open, m_high, m_low, m_close, 0.6, hollow=True)
draw_volume(v3, m_open, m_close, m_vol, 0.6, hollow=True)
finish_volume(P3, 3)
price_marker(P3, 4550)
lbl(p3, PX(3, 1025), PY(3, 45), "▮가격(수정)", color="#e01010", size=16)
lbl(p3, PX(3, 1050), PY(3, 65), "↙최고27,500(2020/11),217.19%", color="#e01010", size=16)
lbl(p3, PX(3, 1026), PY(3, LOW_Y), "최저4,550(2022/06),-47.52%↗", color="#1f63d6", size=15)
v3.text(x=[P3.xe - 5 * P3.u], y=[VY(3, 1207)], text=["× 1000"], text_align="right", text_baseline="middle",
        text_font=value(MF), text_font_size=value("15px"), text_color=AXTXT)

# ============================ PANEL 4 : 999 tick ============================
P4 = make_panel(4, True, list(range(6100, 8601, 100)), list(range(6040, 8820, 20)),
                [37.9, 51.3], [0, 50000, 100000, 150000, 200000], list(range(10000, 260000, 10000)),
                t_tick_idx, t_tick_lbl)
p4, v4 = P4.p, P4.v
profile(P4, t_band_top, t_band_bot, t_band_pct, t_band_vol, ("#4a4a16", "#26305a"), rounded=True)
n_dl = len(t_day_lines)
p4.segment(x0=t_day_lines, y0=[P4.ys] * n_dl, x1=t_day_lines, y1=[P4.ye] * n_dl, line_color=DAYC, line_width=1.6)
v4.segment(x0=t_day_lines, y0=[P4.vy0] * n_dl, x1=t_day_lines, y1=[P4.vy1] * n_dl, line_color=DAYC, line_width=1.6)
draw_candles(p4, t_open, t_high, t_low, t_close, 0.7)
draw_volume(v4, t_open, t_close, t_vol, 0.7, hollow=True)
p4.line(t_ma60_idx, t_ma60_val, line_color="#6f93d6", line_width=1.3)
p4.line(t_ma20_idx, t_ma20_val, line_color="#c66ad6", line_width=1.3)
p4.line(t_ma5_idx, t_ma5_val, line_color="#ef7c7c", line_width=1.3)
finish_volume(P4, 4)
price_marker(P4, PY(4, 1048))
lbl(p4, PX(4, 1528), PY(4, 47), "▮매물대분석차트(7,0)", color="#d3d893", size=16)
lbl(p4, PX(4, 1708), PY(4, 47), "▮가격(수정)", color="#e01010", size=16)
lbl(p4, PX(4, 1812), PY(4, 47), "▮5", color="#ef7c7c", size=16)
lbl(p4, PX(4, 1837), PY(4, 47), "▮20", color="#c66ad6", size=16)
lbl(p4, PX(4, 1874), PY(4, 47), "▮60", color="#6f93d6", size=16)
lbl(p4, PX(4, 1905), PY(4, 47), "▮120", color="#35b29f", size=16)
lbl(p4, PX(4, 1597), PY(4, 64), "최고8,670(15,15:02:38),0.00%↘", color="#e01010", size=16)
lbl(p4, PX(4, 1508), PY(4, LOW_Y), "↖최저6,100(장마감),-29.64%", color="#1f63d6", size=15)

# ============================ PANEL 5 : 60 min ============================
P5 = make_panel(5, True, list(range(6210, 8611, 100)), list(range(6150, 8800, 20)),
                None, [100000, 200000, 300000], list(range(20000, 340000, 20000)),
                h_tick_idx, h_tick_lbl)
p5, v5 = P5.p, P5.v
n_hl = len(h_tick_idx)
p5.segment(x0=h_tick_idx, y0=[P5.ys] * n_hl, x1=h_tick_idx, y1=[P5.ye] * n_hl, line_color=DAYC, line_width=1.6)
v5.segment(x0=h_tick_idx, y0=[P5.vy0] * n_hl, x1=h_tick_idx, y1=[P5.vy1] * n_hl, line_color=DAYC, line_width=1.6)
draw_candles(p5, h_open, h_high, h_low, h_close, 0.7)
draw_volume(v5, h_open, h_close, h_vol, 0.6, hollow=True)
p5.line(h_ma120_idx, h_ma120_val, line_color="#35b29f", line_width=1.3)
p5.line(h_ma60_idx, h_ma60_val, line_color="#6f93d6", line_width=1.3)
p5.line(h_ma20_idx, h_ma20_val, line_color="#c66ad6", line_width=1.3)
p5.line(h_ma5_idx, h_ma5_val, line_color="#ef7c7c", line_width=1.3)
finish_volume(P5, 5)
price_marker(P5, PY(5, 1048))
lbl(p5, PX(5, 2027), PY(5, 45), "▮가격(수정)", color="#e01010", size=16)
lbl(p5, PX(5, 2131), PY(5, 45), "▮5", color="#ef7c7c", size=16)
lbl(p5, PX(5, 2158), PY(5, 45), "▮20", color="#c66ad6", size=16)
lbl(p5, PX(5, 2195), PY(5, 45), "▮60", color="#6f93d6", size=16)
lbl(p5, PX(5, 2228), PY(5, 45), "▮120", color="#35b29f", size=16)
lbl(p5, PX(5, 2036), PY(5, 64), "최고8,670(2022/12/15,15:00),0.00%↘", color="#e01010", size=16)
lbl(p5, PX(5, 2008), PY(5, LOW_Y), "↖최저6,210(2022/12/09,10:00),-28.37%", color="#1f63d6", size=15)
v5.text(x=[P5.xe - 6 * P5.u], y=[VY(5, 1197)], text=["× 10"], text_align="right", text_baseline="middle",
        text_font=value(MF), text_font_size=value("15px"), text_color=AXTXT)

# ============================ LAYOUT ============================
cols = []
specs = [("1일", False, P1, 262, 30, 330),
         ("1주", False, P2, 22, 268, 402),
         ("1월", True, P3, 22, 268, 402),
         ("999틱", False, P4, 22, 268, 402),
         ("60분", False, P5, 258, 32, 332)]
for tf, cream, P, tl, tw, kn in specs:
    cols.append(column(header(tf, cream), P.p, P.v, scrollbar(tl, tw, kn), spacing=0))
layout = row(*cols, spacing=0)

open("out.html", "w").write(file_html(layout, INLINE, title="소마젠 차트"))
